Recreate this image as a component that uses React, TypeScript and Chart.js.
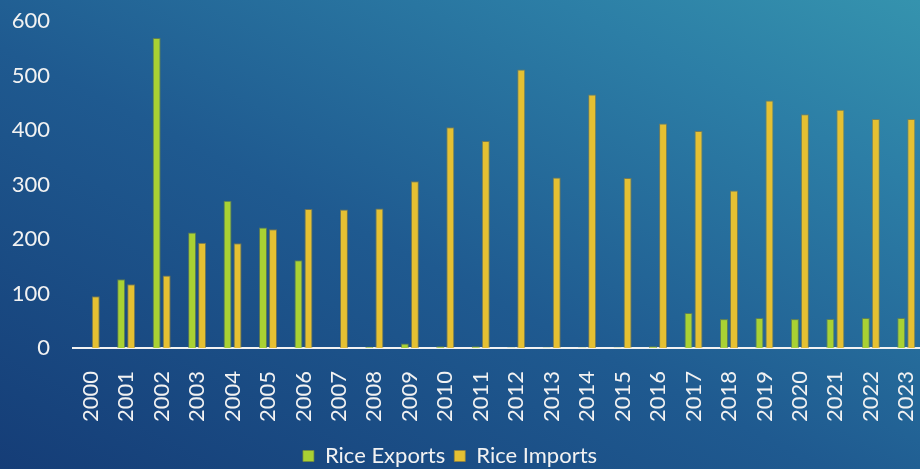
import React, { useEffect, useRef } from "react";
import { Chart, registerables } from "chart.js";

Chart.register(...registerables);

const years = ["2000","2001","2002","2003","2004","2005","2006","2007","2008","2009","2010","2011","2012","2013","2014","2015","2016","2017","2018","2019","2020","2021","2022","2023"];
const riceExports = [0,126,569,212,270,221,161,0,2,8,3,3,1,1,1,1,3,64,53,55,53,53,55,55];
const riceImports = [95,117,133,193,192,218,255,254,256,306,405,380,511,313,465,312,412,398,289,454,429,437,420,420];
const yTicks = [0,100,200,300,400,500,600];

const FONT = "Lato, 'Open Sans', sans-serif";

const legendShift = {
  id: "legendShift",
  afterLayout(chart: any) {
    const lg = chart.legend;
    if (lg) {
      lg.left -= 12;
      lg.right -= 12;
      lg.top -= 9;
      lg.bottom -= 9;
    }
  },
};

export default function App() {
  const ref = useRef<HTMLCanvasElement | null>(null);
  useEffect(() => {
    document.body.style.margin = "0";
    document.body.style.overflow = "hidden";
    const chart = new Chart(ref.current as HTMLCanvasElement, {
      type: "bar",
      data: {
        labels: years,
        datasets: [
          {
            label: "Rice Exports",
            data: riceExports,
            backgroundColor: "#a9d133",
            borderColor: "rgba(120,140,60,0.7)",
            borderWidth: 1,
            categoryPercentage: 0.565,
            barPercentage: 0.8,
          },
          {
            label: "Rice Imports",
            data: riceImports,
            backgroundColor: "#e5c032",
            borderColor: "rgba(150,130,60,0.7)",
            borderWidth: 1,
            categoryPercentage: 0.565,
            barPercentage: 0.8,
          },
        ],
      },
      options: {
        responsive: false,
        animation: false,
        layout: { padding: { top: 21, left: 0, right: 0, bottom: 0 } },
        plugins: {
          legend: {
            position: "bottom",
            labels: {
              color: "#f2f2f2",
              font: { family: FONT, size: 22 },
              boxWidth: 11,
              boxHeight: 11,
              padding: 9,
            },
          },
          tooltip: { enabled: false },
        },
        scales: {
          x: {
            afterFit: (axis: any) => {
              axis.paddingLeft = 0;
              axis.paddingRight = 0;
            },
            grid: { display: false, drawTicks: false },
            border: { display: true, color: "#f2f2f2", width: 2 },
            ticks: {
              color: "#f2f2f2",
              font: { family: FONT, size: 22 },
              minRotation: 90,
              maxRotation: 90,
              autoSkip: false,
              padding: 23,
            },
          },
          y: {
            min: 0,
            max: 600,
            afterBuildTicks: (axis: any) => {
              axis.ticks = yTicks.map((v) => ({ value: v }));
            },
            afterFit: (axis: any) => {
              axis.width = 73;
              axis.paddingTop = 0;
              axis.paddingBottom = 0;
            },
            grid: { display: false, drawTicks: false },
            border: { display: false },
            ticks: {
              color: "#f2f2f2",
              font: { family: FONT, size: 22 },
              padding: 23,
            },
          },
        },
      },
      plugins: [legendShift],
    });
    return () => chart.destroy();
  }, []);
  return (
    <div
      style={{
        width: 920,
        height: 469,
        overflow: "hidden",
        background: "linear-gradient(to top right, #153d77 0%, #1f5a90 45%, #2c7ea6 80%, #3593ae 100%)",
      }}
    >
      <canvas ref={ref} width={924} height={486} style={{ display: "block" }} />
    </div>
  );
}
